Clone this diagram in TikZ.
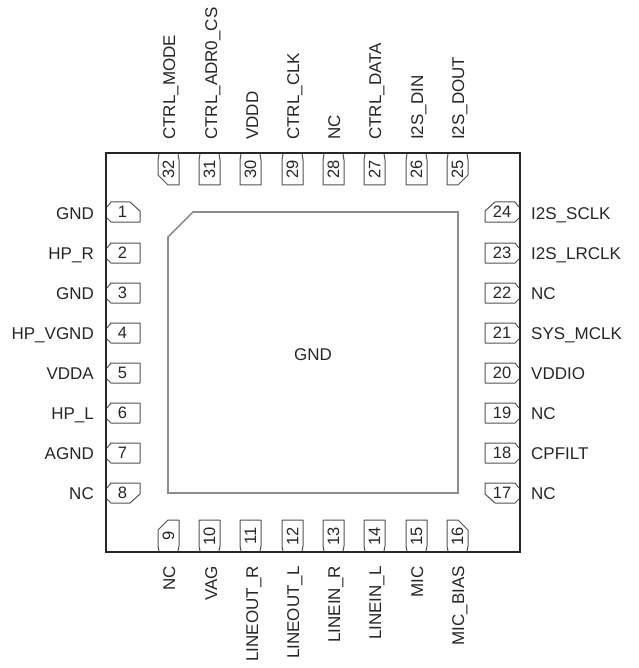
\documentclass[tikz,border=0pt]{standalone}
\usepackage{fontspec}
\setmainfont{Liberation Sans}
\definecolor{pinline}{gray}{0.32}
\definecolor{padline}{gray}{0.55}
\definecolor{txt}{gray}{0.15}
\tikzset{
  pkgbox/.style={draw=black!85,line width=2.2pt},
  padbox/.style={draw=padline,line width=1.6pt},
  pinbox/.style={draw=pinline,line width=1pt,line join=round},
  lab/.style={inner sep=0pt,text=txt,font=\fontsize{17}{18}\selectfont},
  num/.style={inner sep=0pt,text=txt,font=\fontsize{16.5}{18}\selectfont},
}
\newcommand{\pinLeft}[3]{% ytop, number, kind (0 plain, 1 top chamfer, 2 bottom chamfer)
  \ifcase#3\relax
    \draw[pinbox] (107,#1+5)--(111,#1)--(140,#1)--(140,#1+20)--(111,#1+20)--(107,#1+16);
  \or
    \draw[pinbox] (107,#1+5)--(111,#1)--(130,#1)--(140,#1+9)--(140,#1+20)--(111,#1+20)--(107,#1+16);
  \or
    \draw[pinbox] (107,#1+5)--(111,#1)--(140,#1)--(140,#1+11)--(130,#1+20)--(111,#1+20)--(107,#1+16);
  \fi
  \node[num] (p#2) at (122.5,#1+10) {#2};}
\newcommand{\pinRight}[3]{%
  \ifcase#3\relax
    \draw[pinbox] (519,#1+5)--(515,#1)--(485,#1)--(485,#1+20)--(515,#1+20)--(519,#1+16);
  \or
    \draw[pinbox] (519,#1+5)--(515,#1)--(495,#1)--(485,#1+9)--(485,#1+20)--(515,#1+20)--(519,#1+16);
  \or
    \draw[pinbox] (519,#1+5)--(515,#1)--(485,#1)--(485,#1+11)--(495,#1+20)--(515,#1+20)--(519,#1+16);
  \fi
  \node[num] (p#2) at (502,#1+10) {#2};}
\newcommand{\pinTop}[3]{% xleft, number, kind (0 plain, 1 left chamfer, 2 right chamfer)
  \ifcase#3\relax
    \draw[pinbox] (#1+1,154)--(#1,160)--(#1,185)--(#1+21,185)--(#1+21,160)--(#1+20,154);
  \or
    \draw[pinbox] (#1+1,154)--(#1,160)--(#1,175)--(#1+10,185)--(#1+21,185)--(#1+21,160)--(#1+20,154);
  \or
    \draw[pinbox] (#1+1,154)--(#1,160)--(#1,185)--(#1+11,185)--(#1+21,175)--(#1+21,160)--(#1+20,154);
  \fi
  \node[num,rotate=90] (p#2) at (#1+10.5,169) {#2};}
\newcommand{\pinBottom}[3]{%
  \ifcase#3\relax
    \draw[pinbox] (#1+1,551)--(#1,546)--(#1,520)--(#1+21,520)--(#1+21,546)--(#1+20,551);
  \or
    \draw[pinbox] (#1+1,551)--(#1,546)--(#1,530)--(#1+10,520)--(#1+21,520)--(#1+21,546)--(#1+20,551);
  \or
    \draw[pinbox] (#1+1,551)--(#1,546)--(#1,520)--(#1+11,520)--(#1+21,530)--(#1+21,546)--(#1+20,551);
  \fi
  \node[num,rotate=90] (p#2) at (#1+10.5,536) {#2};}
\begin{document}
\begin{tikzpicture}[x=1pt,y=-1pt]
\useasboundingbox (0,0) rectangle (638,668);
\draw[pkgbox] (106,153) rectangle (520,552);
\draw[padbox] (168,237)--(193,212)--(458,212)--(458,493)--(168,493)--cycle;
\node[lab] (gnd) at (313,355) {GND};
\pinLeft{202}{1}{1} \pinLeft{243}{2}{0} \pinLeft{283}{3}{0} \pinLeft{323}{4}{0}
\pinLeft{363}{5}{0} \pinLeft{403}{6}{0} \pinLeft{443}{7}{0} \pinLeft{483}{8}{2}
\pinRight{202}{24}{1} \pinRight{243}{23}{0} \pinRight{283}{22}{0} \pinRight{323}{21}{0}
\pinRight{363}{20}{0} \pinRight{403}{19}{0} \pinRight{443}{18}{0} \pinRight{483}{17}{2}
\pinTop{158}{32}{1} \pinTop{199}{31}{0} \pinTop{240}{30}{0} \pinTop{282}{29}{0}
\pinTop{323}{28}{0} \pinTop{364}{27}{0} \pinTop{406}{26}{0} \pinTop{447}{25}{2}
\pinBottom{158}{9}{1} \pinBottom{199}{10}{0} \pinBottom{240}{11}{0} \pinBottom{282}{12}{0}
\pinBottom{323}{13}{0} \pinBottom{364}{14}{0} \pinBottom{406}{15}{0} \pinBottom{447}{16}{2}
\foreach \n/\y/\t in {1/219/GND,2/259/HP\_R,3/299/GND,4/339/HP\_VGND,5/379/VDDA,6/419/HP\_L,7/459/AGND,8/499/NC}
  \node[lab,anchor=base east] (ll\n) at (94,\y) {\t};
\foreach \n/\y/\t in {24/219/I2S\_SCLK,23/259/I2S\_LRCLK,22/299/NC,21/339/SYS\_MCLK,20/379/VDDIO,19/419/NC,18/459/CPFILT,17/499/NC}
  \node[lab,anchor=base west] (rl\n) at (531,\y) {\t};
\foreach \n/\x/\t in {32/175/CTRL\_MODE,31/217/CTRL\_ADR0\_CS,30/258/VDDD,29/299/CTRL\_CLK,28/340/NC,27/381/CTRL\_DATA,26/423/I2S\_DIN,25/464/I2S\_DOUT}
  \node[lab,rotate=90,anchor=base west] (tl\n) at (\x,140) {\t};
\foreach \n/\x/\t in {9/175/NC,10/217/VAG,11/258/LINEOUT\_R,12/299/LINEOUT\_L,13/340/LINEIN\_R,14/381/LINEIN\_L,15/423/MIC,16/464/MIC\_BIAS}
  \node[lab,rotate=90,anchor=base east] (bl\n) at (\x,566) {\t};
\end{tikzpicture}
\end{document}
